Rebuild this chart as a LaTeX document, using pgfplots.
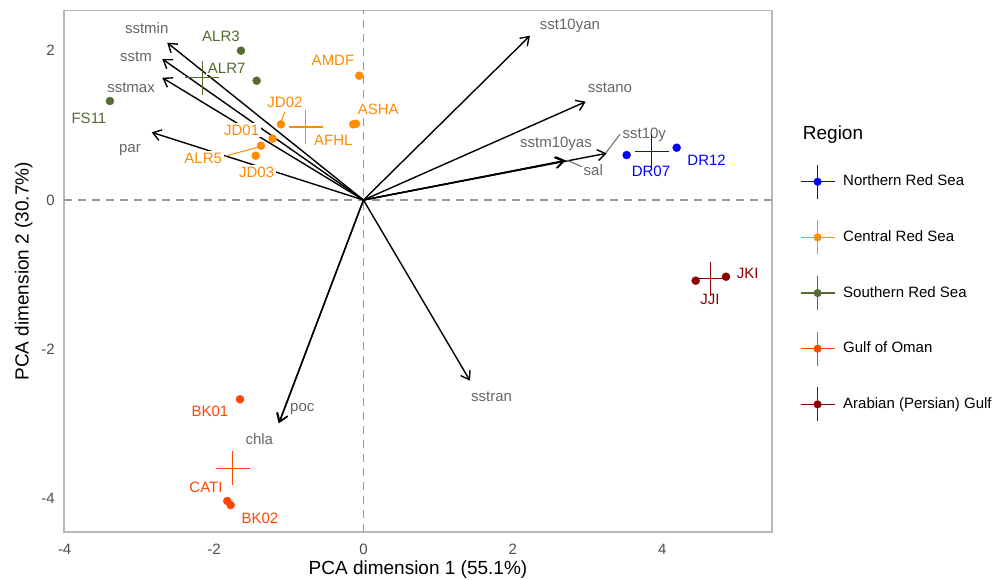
\documentclass[border=0pt]{standalone}
\usepackage{pgfplots}
\pgfplotsset{compat=1.18}
\usepackage{fontspec}
\setmainfont{Liberation Sans}
\usetikzlibrary{arrows.meta}
\definecolor{cN}{HTML}{0000FF}
\definecolor{cC}{HTML}{FF8C00}
\definecolor{cS}{HTML}{556B2F}
\definecolor{cG}{HTML}{FF4500}
\definecolor{cA}{HTML}{8B0000}
\definecolor{vlabcol}{HTML}{666666}
\definecolor{zline}{HTML}{999999}
\definecolor{bordercol}{HTML}{B8B8B8}
\definecolor{tickcol}{HTML}{4D4D4D}
\pgfplotsset{
  regionleg/.style={legend image code/.code={
    \draw[#1,line width=1.25pt] (-17pt,0pt)--(17pt,0pt) (0pt,-17pt)--(0pt,17pt);
    \fill[#1] (0pt,0pt) circle (3.8pt);}},
  pts/.style={only marks, mark=*, mark size=4pt, color=#1, mark options={draw=none, fill=#1}, forget plot},
  cent/.style={only marks, mark=+, mark size=17pt, color=#1, mark options={line width=1.25pt}, regionleg=#1},
  arr/.style={black, line width=1.4pt, -{Straight Barb[length=8pt,width=11pt,line width=1.4pt]}, forget plot},
  seg/.style={color=#1, line width=1pt, forget plot},
}
\tikzset{
  vl/.style={text=vlabcol, font=\fontsize{15}{18}\selectfont, inner sep=0pt, text height=10.7pt, text depth=0pt},
  sl/.style={text=#1, fill=white, font=\fontsize{15}{18}\selectfont, inner sep=1.5pt, text height=10.7pt, text depth=0pt},
}
\begin{document}
\begin{tikzpicture}
\useasboundingbox (0,0) rectangle (999pt,580pt);
\begin{axis}[
  at={(64pt,48pt)}, anchor=south west,
  width=708pt, height=521.5pt, scale only axis,
  xmin=-4.009, xmax=5.469, ymin=-4.444, ymax=2.537,
  axis line style={draw=bordercol, line width=1.1pt},
  major tick length=0pt,
  xtick={-4,-2,0,2,4}, xticklabels={-4,-2,0,2,4},
  ytick={-4,-2,0,2}, yticklabels={-4,-2,0,2},
  xticklabel style={anchor=base, yshift=-22.4pt, inner sep=0pt, text=tickcol, font=\fontsize{15}{18}\selectfont},
  yticklabel style={anchor=east, xshift=-9pt, inner sep=0pt, text=tickcol, font=\fontsize{15}{18}\selectfont},
  legend style={at={(1.0395,0.7054)}, anchor=north west, draw=none, fill=none, inner sep=0pt, outer sep=0pt,
    row sep=20.4pt, column sep=8pt,
    nodes={inner sep=0pt, text height=11pt, text depth=3pt, font=\fontsize{15}{18}\selectfont}},
  legend cell align=left,
]
% zero lines
\addplot[zline, line width=1.5pt, dash pattern=on 8pt off 6pt, forget plot] coordinates {(-4.009,0) (5.469,0)};
\addplot[zline, line width=1.5pt, dash pattern=on 8pt off 6pt, forget plot] coordinates {(0,-4.444) (0,2.537)};
% loadings arrows
\addplot[arr] coordinates {(0,0) (-2.627,2.106)}; % sstmin
\addplot[arr] coordinates {(0,0) (-2.693,1.888)}; % sstm
\addplot[arr] coordinates {(0,0) (-2.693,1.637)}; % sstmax
\addplot[arr] coordinates {(0,0) (-2.835,0.906)}; % par
\addplot[arr] coordinates {(0,0) (2.229,2.199)}; % sst10yan
\addplot[arr] coordinates {(0,0) (2.975,1.316)}; % sstano
\addplot[arr] coordinates {(0,0) (2.707,0.530)}; % sstm10yas
\addplot[arr] coordinates {(0,0) (2.690,0.522)}; % sal
\addplot[arr] coordinates {(0,0) (3.256,0.625)}; % sst10y
\addplot[arr] coordinates {(0,0) (1.426,-2.419)}; % sstran
\addplot[arr] coordinates {(0,0) (-1.127,-2.981)}; % poc
\addplot[arr] coordinates {(0,0) (-1.135,-2.990)}; % chla
% label segments
\addplot[seg=vlabcol] coordinates {(3.434,0.880) (3.246,0.633)};
\addplot[seg=vlabcol] coordinates {(2.921,0.446) (2.720,0.535)};
\addplot[seg=cC] coordinates {(-1.051,1.182) (-1.104,1.048)};
\addplot[seg=cC] coordinates {(-1.845,0.589) (-1.386,0.714)};
% sample points
\addplot[pts=cN] coordinates {(3.523,0.602) (4.193,0.700)};
\addplot[pts=cC] coordinates {(-0.056,1.664) (-0.137,1.013) (-0.100,1.021) (-1.104,1.013) (-1.216,0.821) (-1.372,0.727) (-1.443,0.593)};
\addplot[pts=cS] coordinates {(-1.640,1.999) (-1.430,1.597) (-3.394,1.325)};
\addplot[pts=cG] coordinates {(-1.653,-2.668) (-1.823,-4.029) (-1.778,-4.083)};
\addplot[pts=cA] coordinates {(4.447,-1.080) (4.853,-1.027)};
% centroids
\addplot[cent=cN] coordinates {(3.858,0.651)};
\addlegendentry{Northern Red Sea}
\addplot[cent=cC] coordinates {(-0.775,0.979)};
\addlegendentry{Central Red Sea}
\addplot[cent=cS] coordinates {(-2.155,1.640)};
\addlegendentry{Southern Red Sea}
\addplot[cent=cG] coordinates {(-1.751,-3.593)};
\addlegendentry{Gulf of Oman}
\addplot[cent=cA] coordinates {(4.650,-1.054)};
\addlegendentry{Arabian (Persian) Gulf}
% variable labels
\node[vl] at (axis cs:-2.902,2.299) {sstmin};
\node[vl] at (axis cs:-3.046,1.928) {sstm};
\node[vl] at (axis cs:-3.112,1.509) {sstmax};
\node[vl] at (axis cs:-3.126,0.714) {par};
\node[vl] at (axis cs:2.764,2.352) {sst10yan};
\node[vl] at (axis cs:3.300,1.517) {sstano};
\node[vl] at (axis cs:2.577,0.772) {sstm10yas};
\node[vl] at (axis cs:3.759,0.901) {sst10y};
\node[vl] at (axis cs:3.076,0.402) {sal};
\node[vl] at (axis cs:1.716,-2.624) {sstran};
\node[vl] at (axis cs:-0.819,-2.754) {poc};
\node[vl] at (axis cs:-1.395,-3.203) {chla};
% sample labels
\node[sl=cS] at (axis cs:-1.908,2.195) {ALR3};
\node[sl=cS] at (axis cs:-1.831,1.767) {ALR7};
\node[sl=cS] at (axis cs:-3.675,1.098) {FS11};
\node[sl=cC] at (axis cs:-0.408,1.874) {AMDF};
\node[sl=cC] at (axis cs:0.198,1.218) {ASHA};
\node[sl=cC] at (axis cs:-1.051,1.316) {JD02};
\node[sl=cC] at (axis cs:-0.404,0.799) {AFHL};
\node[sl=cC] at (axis cs:-1.631,0.937) {JD01};
\node[sl=cC] at (axis cs:-2.145,0.558) {ALR5};
\node[sl=cC] at (axis cs:-1.430,0.371) {JD03};
\node[sl=cG] at (axis cs:-2.055,-2.821) {BK01};
\node[sl=cG] at (axis cs:-2.108,-3.838) {CATI};
\node[sl=cG] at (axis cs:-1.386,-4.261) {BK02};
\node[sl=cN] at (axis cs:3.849,0.388) {DR07};
\node[sl=cN] at (axis cs:4.594,0.535) {DR12};
\node[sl=cA] at (axis cs:5.143,-0.973) {JKI};
\node[sl=cA] at (axis cs:4.639,-1.325) {JJI};
\end{axis}
\node[anchor=base, font=\fontsize{19}{22}\selectfont, inner sep=0pt] at (418pt,5pt) {PCA dimension 1 (55.1\%)};
\node[anchor=base, rotate=90, font=\fontsize{19}{22}\selectfont, inner sep=0pt] at (28.6pt,308.75pt) {PCA dimension 2 (30.7\%)};
\node[anchor=west, font=\fontsize{19}{22}\selectfont, inner sep=0pt] at (802.7pt,445.7pt) {Region};
\end{tikzpicture}
\end{document}
